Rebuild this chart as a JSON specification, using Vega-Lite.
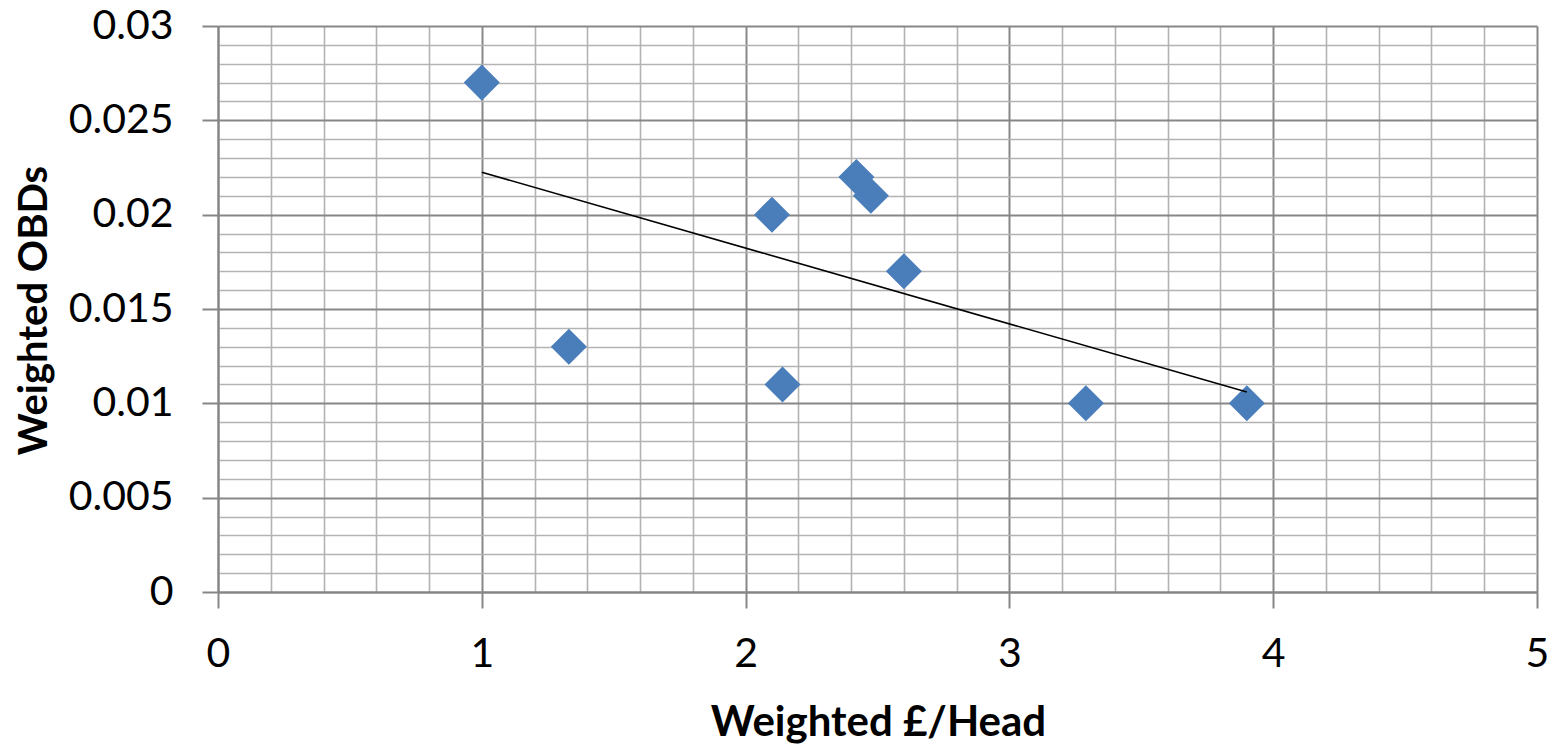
{
  "$schema": "https://vega.github.io/schema/vega-lite/v6.json",
  "width": 1319,
  "height": 566,
  "autosize": {"type": "none"},
  "padding": {"left": 218, "top": 26, "right": 11, "bottom": 154},
  "background": "white",
  "config": {
    "view": {"stroke": null},
    "font": "Lato"
  },
  "data": {
    "values": [
      {"x": 1.0, "y": 0.027},
      {"x": 1.33, "y": 0.013},
      {"x": 2.1, "y": 0.020},
      {"x": 2.14, "y": 0.011},
      {"x": 2.42, "y": 0.022},
      {"x": 2.475, "y": 0.021},
      {"x": 2.6, "y": 0.017},
      {"x": 3.29, "y": 0.010},
      {"x": 3.9, "y": 0.010}
    ]
  },
  "encoding": {
    "x": {
      "field": "x",
      "type": "quantitative",
      "scale": {"domain": [0, 5], "nice": false, "zero": true},
      "axis": {
        "title": "Weighted £/Head",
        "titleFont": "Lato",
        "titleFontSize": 42,
        "titleFontWeight": "bold",
        "titleColor": "black",
        "titleX": 660,
        "titleY": 143,
        "titleAlign": "center",
        "titleBaseline": "alphabetic",
        "values": [0, 0.2, 0.4, 0.6, 0.8, 1, 1.2, 1.4, 1.6, 1.8, 2, 2.2, 2.4, 2.6, 2.8, 3, 3.2, 3.4, 3.6, 3.8, 4, 4.2, 4.4, 4.6, 4.8, 5],
        "labelExpr": "datum.value % 1 === 0 ? format(datum.value, 'd') : ''",
        "labelFont": "Lato",
        "labelFontSize": 41,
        "labelColor": "black",
        "labelPadding": 26,
        "labelFlush": false,
        "labelOverlap": false,
        "labelBound": false,
        "domainColor": "#868686",
        "domainWidth": 2,
        "tickSize": 16,
        "tickWidth": 2,
        "tickColor": {"condition": {"test": "datum.value % 1 === 0", "value": "#868686"}, "value": "transparent"},
        "grid": true,
        "gridColor": {"condition": {"test": "datum.value % 1 === 0", "value": "#878787"}, "value": "#b3b3b3"},
        "gridWidth": {"condition": {"test": "datum.value % 1 === 0", "value": 2}, "value": 1.6},
        "gridOpacity": 1
      }
    },
    "y": {
      "field": "y",
      "type": "quantitative",
      "scale": {"domain": [0, 0.03], "nice": false, "zero": true},
      "axis": {
        "title": "Weighted OBDs",
        "titleFont": "Lato",
        "titleFontSize": 40,
        "titleFontWeight": "bold",
        "titleColor": "black",
        "titleAngle": -90,
        "titleX": -172,
        "titleY": 284,
        "titleAlign": "center",
        "titleBaseline": "alphabetic",
        "values": [0, 0.001, 0.002, 0.003, 0.004, 0.005, 0.006, 0.007, 0.008, 0.009, 0.01, 0.011, 0.012, 0.013, 0.014, 0.015, 0.016, 0.017, 0.018, 0.019, 0.02, 0.021, 0.022, 0.023, 0.024, 0.025, 0.026, 0.027, 0.028, 0.029, 0.03],
        "labelExpr": "abs(round(datum.value * 200) - datum.value * 200) < 0.001 ? format(datum.value, '~g') : ''",
        "labelFont": "Lato",
        "labelFontSize": 41,
        "labelColor": "black",
        "labelPadding": 29,
        "labelFlush": false,
        "labelOverlap": false,
        "labelBound": false,
        "domainColor": "#868686",
        "domainWidth": 2,
        "tickSize": 16,
        "tickWidth": 2,
        "tickColor": {"condition": {"test": "abs(round(datum.value * 200) - datum.value * 200) < 0.001", "value": "#868686"}, "value": "transparent"},
        "grid": true,
        "gridColor": {"condition": {"test": "abs(round(datum.value * 200) - datum.value * 200) < 0.001", "value": "#878787"}, "value": "#b3b3b3"},
        "gridWidth": {"condition": {"test": "abs(round(datum.value * 200) - datum.value * 200) < 0.001", "value": 2}, "value": 1.6},
        "gridOpacity": 1
      }
    }
  },
  "layer": [
    {
      "mark": {"type": "point", "shape": "diamond", "filled": true, "color": "#4a7ebb", "opacity": 1, "size": 1300}
    },
    {
      "transform": [{"regression": "y", "on": "x", "method": "linear"}],
      "mark": {"type": "line", "color": "black", "strokeWidth": 1.6}
    }
  ]
}
